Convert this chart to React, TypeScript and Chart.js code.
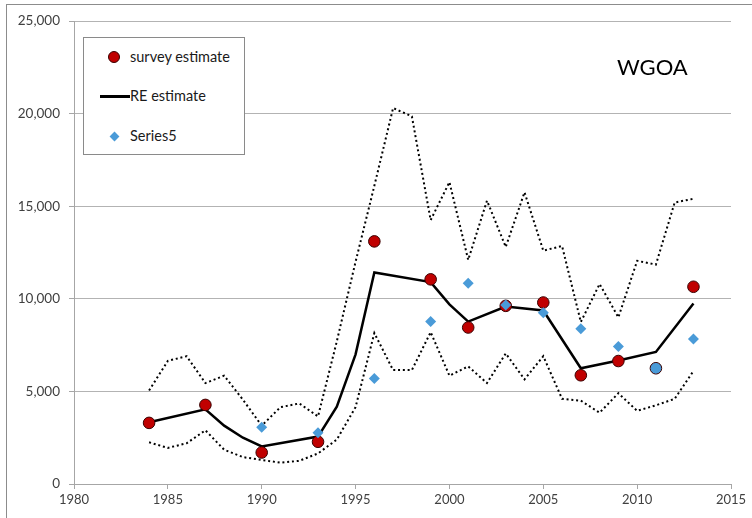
import React, { useEffect, useRef } from "react";
import { Chart, registerables } from "chart.js";
Chart.register(...registerables);

// ---- data ----
const surveyYears = [1984, 1987, 1990, 1993, 1996, 1999, 2001, 2003, 2005, 2007, 2009, 2011, 2013];
const surveyValues = [3300, 4270, 1700, 2280, 13100, 11050, 8450, 9620, 9800, 5870, 6640, 6250, 10650];

const reYears = [1984, 1987, 1988, 1989, 1990, 1993, 1994, 1995, 1996, 1999, 2000, 2001, 2003, 2005, 2007, 2009, 2011, 2013];
const reValues = [3330, 4030, 3150, 2500, 2030, 2560, 4180, 7000, 11420, 10900, 9700, 8770, 9580, 9370, 6250, 6670, 7130, 9750];

const series5Years = [1990, 1993, 1996, 1999, 2001, 2003, 2005, 2007, 2009, 2011, 2013];
const series5Values = [3070, 2770, 5700, 8780, 10840, 9670, 9250, 8380, 7420, 6250, 7830];

const ciYears = [1984, 1985, 1986, 1987, 1988, 1989, 1990, 1991, 1992, 1993, 1994, 1995, 1996, 1997, 1998, 1999, 2000, 2001, 2002, 2003, 2004, 2005, 2006, 2007, 2008, 2009, 2010, 2011, 2012, 2013];
const upperCI = [5050, 6650, 6900, 5450, 5850, 4550, 3150, 4150, 4350, 3650, 7700, 12000, 16100, 20300, 19850, 14250, 16300, 12100, 15300, 12800, 15750, 12600, 12850, 8750, 10800, 9000, 12050, 11850, 15200, 15400];
const lowerCI = [2250, 1950, 2200, 2900, 1850, 1450, 1300, 1150, 1250, 1650, 2400, 4150, 8150, 6150, 6150, 8200, 5850, 6350, 5450, 7050, 5650, 6900, 4600, 4500, 3850, 4900, 3950, 4250, 4600, 6100];

const xMin = 1980;
const xMax = 2015;
const xStep = 5;
const yMin = 0;
const yMax = 25000;
const yStep = 5000;

const regionLabel = "WGOA";
const legendLabels = ["survey estimate", "RE estimate", "Series5"];

// ---- styles ----
const RED = "#c00000";
const RED_BORDER = "#3a0000";
const BLUE = "#4a9bd8";
const AXIS = "#a6a6a6";
const GRID = "#b3b3b3";
const TEXT = "#404040";
const FONT = "Lato, 'Open Sans', sans-serif";

const pts = (xs: number[], ys: number[]) => xs.map((x, i) => ({ x, y: ys[i] }));

export default function App() {
  const ref = useRef<HTMLCanvasElement | null>(null);

  useEffect(() => {
    document.body.style.margin = "0";
    const canvas = ref.current!;
    const chart = new Chart(canvas, {
      type: "line",
      data: {
        datasets: [
          {
            label: legendLabels[2],
            data: pts(series5Years, series5Values),
            showLine: false,
            pointStyle: "rectRot",
            pointRadius: 5.5,
            pointBackgroundColor: BLUE,
            pointBorderColor: BLUE,
            pointBorderWidth: 0,
          },
          {
            label: legendLabels[0],
            data: pts(surveyYears, surveyValues),
            showLine: false,
            pointStyle: "circle",
            pointRadius: 5.8,
            pointBackgroundColor: surveyYears.map((y) => (y === 2011 ? BLUE : RED)),
            pointBorderColor: RED_BORDER,
            pointBorderWidth: 1,
          },
          {
            label: legendLabels[1],
            data: pts(reYears, reValues),
            borderColor: "#000",
            borderWidth: 2.5,
            pointRadius: 0,
            tension: 0,
          },
          {
            label: "upper",
            data: pts(ciYears, upperCI),
            borderColor: "#000",
            borderWidth: 2,
            borderDash: [2, 2.8],
            pointRadius: 0,
            tension: 0,
          },
          {
            label: "lower",
            data: pts(ciYears, lowerCI),
            borderColor: "#000",
            borderWidth: 2,
            borderDash: [2, 2.8],
            pointRadius: 0,
            tension: 0,
          },
        ],
      },
      options: {
        responsive: false,
        animation: false,
        devicePixelRatio: 1,
        layout: { padding: { top: 21, right: 21, left: 0, bottom: 0 } },
        plugins: { legend: { display: false }, tooltip: { enabled: false } },
        scales: {
          x: {
            type: "linear",
            min: xMin,
            max: xMax,
            ticks: {
              stepSize: xStep,
              callback: (v: any) => String(v),
              color: TEXT,
              font: { family: FONT, size: 13 },
              padding: 3,
              maxRotation: 0,
            },
            grid: { drawOnChartArea: false, drawTicks: true, tickLength: 5, tickColor: AXIS },
            border: { color: AXIS, width: 1 },
            afterFit: (s: any) => {
              s.height = 34;
            },
          },
          y: {
            min: yMin,
            max: yMax,
            ticks: {
              stepSize: yStep,
              callback: (v: any) => Number(v).toLocaleString("en-US"),
              color: TEXT,
              font: { family: FONT, size: 13.5 },
              padding: 9,
            },
            grid: { color: GRID, tickLength: 5, tickColor: AXIS },
            border: { color: AXIS, width: 1 },
            afterFit: (s: any) => {
              s.width = 74;
            },
          },
        },
      },
    });
    return () => chart.destroy();
  }, []);

  const rowStyle = (cy: number): React.CSSProperties => ({
    position: "absolute",
    left: 0,
    top: cy - 8,
    height: 16,
    width: 160,
    display: "flex",
    alignItems: "center",
  });
  const textStyle: React.CSSProperties = {
    position: "absolute",
    left: 129 - 83,
    top: 0,
    fontFamily: FONT,
    fontSize: 14.5,
    lineHeight: "16px",
    color: "#1a1a1a",
    whiteSpace: "nowrap",
  };

  return (
    <div style={{ position: "relative", width: 752, height: 518, overflow: "hidden", background: "#fff" }}>
      <div
        style={{
          position: "absolute",
          left: 6,
          top: 4,
          width: 760,
          height: 530,
          borderLeft: "1px solid #8c8c8c",
          borderTop: "1px solid #8c8c8c",
        }}
      />
      <canvas ref={ref} width={752} height={518} style={{ position: "absolute", left: 0, top: 0 }} />
      <div
        style={{
          position: "absolute",
          left: 83,
          top: 37,
          width: 160,
          height: 116,
          border: "1px solid #8a8a8a",
          background: "#fff",
        }}
      >
        <div style={rowStyle(57 - 38)}>
          <div
            style={{
              position: "absolute",
              left: 113 - 83 - 6,
              top: 2,
              width: 10,
              height: 10,
              borderRadius: "50%",
              background: RED,
              border: `1px solid ${RED_BORDER}`,
            }}
          />
          <span style={textStyle}>{legendLabels[0]}</span>
        </div>
        <div style={rowStyle(96 - 38)}>
          <div
            style={{
              position: "absolute",
              left: 99 - 83,
              top: 7,
              width: 30,
              height: 2.5,
              background: "#000",
            }}
          />
          <span style={textStyle}>{legendLabels[1]}</span>
        </div>
        <div style={rowStyle(136 - 38)}>
          <div
            style={{
              position: "absolute",
              left: 113 - 83 - 3.5,
              top: 4.5,
              width: 7,
              height: 7,
              background: BLUE,
              transform: "rotate(45deg)",
            }}
          />
          <span style={textStyle}>{legendLabels[2]}</span>
        </div>
      </div>
      <div
        style={{
          position: "absolute",
          left: 617,
          top: 56,
          fontFamily: FONT,
          fontSize: 22,
          lineHeight: "22px",
          color: "#000",
          whiteSpace: "nowrap",
        }}
      >
        {regionLabel}
      </div>
    </div>
  );
}
